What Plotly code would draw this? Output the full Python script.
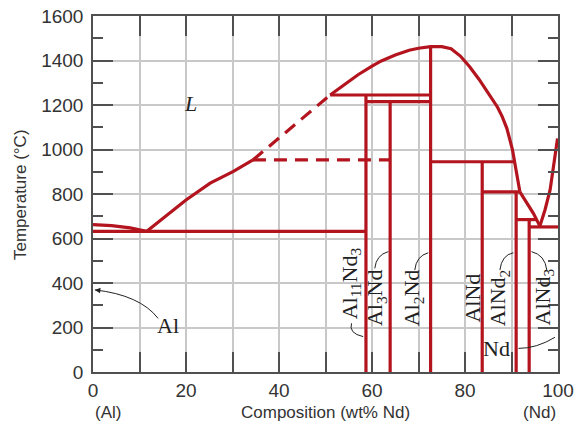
import plotly.graph_objects as go

RED = "#b3141e"
W = 3.2

# ---- phase boundary data (wt% Nd, temperature °C) ----
liq_al_x = [0, 4, 8, 11.5]
liq_al_y = [662, 658, 648, 632]

liq_low_x = [11.5, 20, 25.2, 30.2, 34.4]
liq_low_y = [632, 773, 849, 902, 953]

liq_dash_x = [34.4, 51]
liq_dash_y = [953, 1245]

liq_high_x = [51, 54, 57, 60, 62, 65, 68, 70, 72.6, 75, 77, 79, 81, 83, 85, 87, 88, 89, 90.2, 90.7, 91.3, 91.8]
liq_high_y = [1245, 1292, 1336, 1375, 1398, 1425, 1446, 1455, 1462, 1462, 1453, 1420, 1372, 1316, 1255, 1190, 1148, 1095, 1000, 945, 875, 810]

liq_nd_left_x = [91.8, 92.5, 93.6, 94.7, 95.8, 96.1]
liq_nd_left_y = [810, 788, 751, 713, 668, 656]

liq_nd_right_x = [96.1, 97.2, 98.3, 98.6, 99.2, 99.9]
liq_nd_right_y = [656, 728, 818, 863, 950, 1050]

# horizontal reaction isotherms: (x_start, x_end, T)
iso_x0 = [0, 51, 58.7, 72.6, 83.7, 91.0, 93.8]
iso_x1 = [58.7, 72.6, 72.6, 90.7, 91.8, 95.4, 100]
iso_T = [632, 1245, 1215, 945, 810, 685, 652]

iso_dash_x = [34.4, 63.9]
iso_dash_y = [953, 953]

# intermetallic compound lines: composition and top temperature
cmp_names = ["Al<sub>11</sub>Nd<sub>3</sub>", "Al<sub>3</sub>Nd", "Al<sub>2</sub>Nd", "AlNd", "AlNd<sub>2</sub>", "AlNd<sub>3</sub>"]
cmp_x = [58.7, 63.9, 72.6, 83.7, 91.0, 93.8]
cmp_top = [1245, 1215, 1462, 945, 810, 685]

# label positions (data coords)
lab_x = [55.5, 61.0, 69.0, 81.6, 87.5, 97.0]
lab_y = [399, 335, 335, 332, 335, 335]

# curved leader arrows: start, control, tip
arr_start = [(55.6, 219), (60.6, 466), (69.2, 458), (87.5, 458), (97.6, 458), (14.0, 241), (91.5, 106)]
arr_ctrl = [(54.9, 174), (60.9, 526), (69.5, 521), (87.9, 526), (97.2, 526), (10.1, 346), (95.4, 106)]
arr_tip = [(58.1, 159), (63.5, 541), (72.1, 536), (90.4, 536), (94.3, 541), (0.4, 369), (99.35, 156)]

fig = go.Figure()

def add_line(x, y, dash="solid"):
    fig.add_trace(go.Scatter(x=x, y=y, mode="lines", showlegend=False, hoverinfo="skip",
                             line=dict(color=RED, width=W, dash=dash)))

add_line(liq_al_x, liq_al_y)
add_line(liq_low_x, liq_low_y)
add_line(liq_dash_x, liq_dash_y, dash="13px,8px")
add_line(liq_high_x, liq_high_y)
add_line(liq_nd_left_x, liq_nd_left_y)
add_line(liq_nd_right_x, liq_nd_right_y)
add_line(iso_dash_x, iso_dash_y, dash="13px,8px")
for a, b, t in zip(iso_x0, iso_x1, iso_T):
    add_line([a, b], [t, t])
for cx, ct in zip(cmp_x, cmp_top):
    add_line([cx, cx], [0, ct])

ann = []
serif = dict(family="Liberation Serif", size=22, color="#222")
for name, x, y in zip(cmp_names, lab_x, lab_y):
    ann.append(dict(x=x, y=y, xref="x", yref="y", text=name, showarrow=False,
                    textangle=-90, font=serif, xanchor="center", yanchor="middle"))
ann.append(dict(x=20.9, y=1209, xref="x", yref="y", text="<i>L</i>", showarrow=False, font=serif))
ann.append(dict(x=16.2, y=207, xref="x", yref="y", text="Al", showarrow=False, font=serif))
ann.append(dict(x=86.8, y=106, xref="x", yref="y", text="Nd", showarrow=False, font=serif))

shapes = []
for s, c, t in zip(arr_start, arr_ctrl, arr_tip):
    shapes.append(dict(type="path", xref="x", yref="y",
                       path=f"M {s[0]},{s[1]} Q {c[0]},{c[1]} {t[0]},{t[1]}",
                       line=dict(color="#222", width=1)))
    bx = t[0] + 0.12 * (c[0] - t[0])
    by = t[1] + 0.12 * (c[1] - t[1])
    ann.append(dict(x=t[0], y=t[1], ax=bx, ay=by, xref="x", yref="y", axref="x", ayref="y",
                    text="", showarrow=True, arrowhead=2, arrowsize=1.1, arrowwidth=1,
                    arrowcolor="#222"))

sans = dict(family="Liberation Sans", size=17, color="#333")
ann.append(dict(x=0.5, y=-0.113, xref="paper", yref="paper", text="Composition (wt% Nd)",
                showarrow=False, font=sans, yanchor="middle"))
ann.append(dict(x=0, y=-0.113, xref="paper", yref="paper", text="(Al)",
                showarrow=False, font=sans, yanchor="middle"))
ann.append(dict(x=1, y=-0.113, xref="paper", yref="paper", text="(Nd)",
                showarrow=False, font=sans, yanchor="middle"))
ann.append(dict(x=-0.157, y=0.5, xref="paper", yref="paper", text="Temperature (°C)",
                showarrow=False, font=sans, textangle=-90, xanchor="center", yanchor="middle"))

GRID = "#c8c8c8"
AX = "#505050"
fig.update_layout(
    width=575, height=421,
    margin=dict(l=85, r=25, t=8, b=57, autoexpand=False),
    paper_bgcolor="white", plot_bgcolor="white",
    annotations=ann, shapes=shapes,
    xaxis=dict(range=[0, 100], dtick=20, tick0=0, showgrid=True, gridcolor=GRID, gridwidth=1.5,
               ticks="inside", ticklen=20, tickwidth=1.5, tickcolor=AX,
               showline=True, linecolor=AX, linewidth=1.5, mirror="ticks",
               minor=dict(dtick=10, ticks="inside", ticklen=20, tickwidth=1.5, tickcolor=AX,
                          showgrid=True, gridcolor=GRID, gridwidth=1.5),
               tickfont=dict(family="Liberation Sans", size=19, color="#333"),
               ticklabeloverflow="allow",
               zeroline=False, fixedrange=True, automargin=False),
    yaxis=dict(range=[0, 1600], dtick=200, tick0=0, showgrid=True, gridcolor=GRID, gridwidth=1.5,
               ticks="inside", ticklen=20, tickwidth=1.5, tickcolor=AX,
               showline=True, linecolor=AX, linewidth=1.5, mirror="ticks",
               minor=dict(dtick=100, ticks="inside", ticklen=10, tickwidth=1.5, tickcolor=AX,
                          showgrid=False),
               tickfont=dict(family="Liberation Sans", size=19, color="#333"),
               ticklabelstandoff=4, ticklabeloverflow="allow",
               zeroline=False, fixedrange=True, automargin=False),
)

fig.write_html("out.html")
